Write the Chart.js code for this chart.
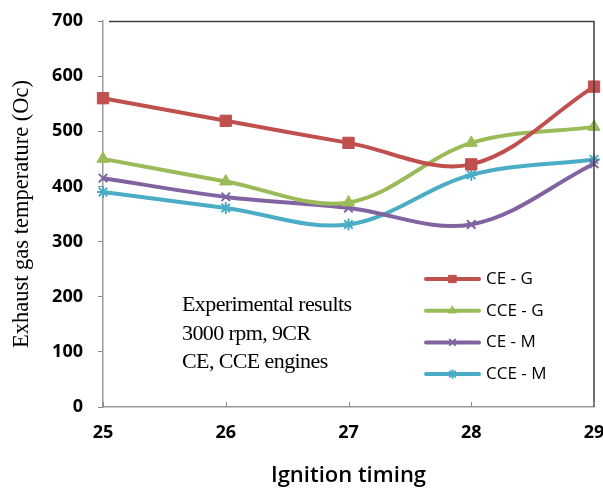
<!DOCTYPE html>
<html lang="en">
<head>
  <meta charset="UTF-8">
  <title>Exhaust gas temperature</title>
  <script src="https://cdn.jsdelivr.net/npm/chart.js"></script>
  <style>
    html, body { margin: 0; padding: 0; background: #fff; }
    #wrap { width: 603px; height: 489px; position: relative; }
  </style>
</head>
<body>
  <div id="wrap"><canvas id="egtChart"></canvas></div>
  <script>
    // ignition timing (deg) on the x axis
    var timing = ['25', '26', '27', '28', '29'];
    var seriesNames = ['CE - G', 'CCE - G', 'CE - M', 'CCE - M'];
    // exhaust gas temperature per series
    var ceG = [560, 519, 479, 440, 581];
    var cceG = [450, 409, 371, 479, 508];
    var ceM = [415, 381, 361, 331, 441];
    var cceM = [390, 361, 331, 421, 449];
    var yTicks = [0, 100, 200, 300, 400, 500, 600, 700];
    var noteLines = ['Experimental results', '3000 rpm, 9CR', 'CE, CCE engines'];

    var colors = ['#C0504D', '#9BBB59', '#8064A2', '#4BACC6'];
    var markers = ['rect', 'triangle', 'crossRot', 'star'];
    var radii = [8, 7, 6, 6];

    function makeSet(i, values) {
      return {
        label: seriesNames[i],
        data: values,
        borderColor: colors[i],
        backgroundColor: colors[i],
        borderWidth: 4,
        pointStyle: markers[i],
        pointRadius: radii[i],
        pointBorderWidth: i < 2 ? 1 : 2,
        pointBorderColor: colors[i],
        pointBackgroundColor: colors[i],
        tension: 0.35,
        fill: false
      };
    }

    // frame, inner x ticks, text box and legend drawn on top of the plot
    var extras = {
      id: 'extras',
      afterDraw: function (chart) {
        var ctx = chart.ctx, a = chart.chartArea;
        var xs = chart.scales.x;
        ctx.save();
        ctx.strokeStyle = '#404040';
        ctx.lineWidth = 1.5;
        ctx.beginPath();
        ctx.moveTo(a.left + 6, a.top + 0.5);
        ctx.lineTo(a.right, a.top + 0.5);
        ctx.lineTo(a.right, a.bottom);
        ctx.stroke();

        ctx.strokeStyle = '#888';
        ctx.lineWidth = 1;
        xs.ticks.forEach(function (t, i) {
          var px = Math.round(xs.getPixelForTick(i)) + 0.5;
          ctx.beginPath();
          ctx.moveTo(px, a.bottom);
          ctx.lineTo(px, a.bottom - 5);
          ctx.stroke();
        });

        ctx.fillStyle = '#000';
        ctx.font = '22px "Liberation Serif"';
        if ('letterSpacing' in ctx) ctx.letterSpacing = '-0.6px';
        ctx.textBaseline = 'alphabetic';
        ctx.textAlign = 'left';
        noteLines.forEach(function (t, i) {
          ctx.fillText(t, 182, 311 + i * 28.5);
        });
        if ('letterSpacing' in ctx) ctx.letterSpacing = '0px';

        ctx.textBaseline = 'middle';
        chart.data.datasets.forEach(function (ds, i) {
          var y = 279 + i * 31.7;
          ctx.strokeStyle = ds.borderColor;
          ctx.lineWidth = 4;
          ctx.lineCap = 'round';
          ctx.beginPath();
          ctx.moveTo(426, y);
          ctx.lineTo(479, y);
          ctx.stroke();
          ctx.fillStyle = ds.borderColor;
          ctx.lineWidth = ds.pointBorderWidth;
          Chart.helpers.drawPoint(ctx, { pointStyle: ds.pointStyle, radius: ds.pointRadius * 0.65, borderWidth: ds.pointBorderWidth }, 452.5, y);
          ctx.fillStyle = '#000';
          ctx.font = '17px "Open Sans"';
          ctx.fillText(ds.label, 486, y);
        });
        ctx.restore();
      }
    };

    var ctx = document.getElementById('egtChart').getContext('2d');
    new Chart(ctx, {
      type: 'line',
      data: {
        labels: timing,
        datasets: [makeSet(0, ceG), makeSet(1, cceG), makeSet(2, ceM), makeSet(3, cceM)]
      },
      plugins: [extras],
      options: {
        responsive: true,
        maintainAspectRatio: false,
        animation: false,
        layout: { padding: { top: 21, right: 9, left: 0, bottom: 0 } },
        plugins: {
          legend: { display: false },
          tooltip: { enabled: false }
        },
        scales: {
          x: {
            offset: false,
            grid: { drawOnChartArea: false, drawTicks: false, color: '#888' },
            border: { color: '#999', width: 1.5 },
            ticks: { color: '#000', font: { family: 'Open Sans', weight: 'bold', size: 18 }, padding: 15, maxRotation: 0 },
            title: {
              display: true,
              text: 'Ignition timing',
              color: '#000',
              font: { family: 'Open Sans', weight: '600', size: 22 },
              padding: { top: 6, bottom: 0 }
            },
            afterFit: function (s) {
              s.height = 82;
              s.paddingLeft = 0;
              s.paddingRight = 0;
            }
          },
          y: {
            min: 0,
            max: 700,
            afterBuildTicks: function (s) { s.ticks = yTicks.map(function (v) { return { value: v }; }); },
            grid: { drawOnChartArea: false, drawTicks: true, tickLength: 5, color: '#888' },
            border: { color: '#999', width: 1.5 },
            ticks: { color: '#000', font: { family: 'Open Sans', weight: 'bold', size: 18 }, padding: 15 },
            title: {
              display: true,
              text: 'Exhaust gas temperature (Oc)',
              color: '#000',
              font: { family: 'Liberation Serif', size: 22.5 },
              padding: { top: 9, bottom: 0 }
            },
            afterFit: function (s) {
              s.width = 103;
              s.paddingTop = 0;
              s.paddingBottom = 0;
            }
          }
        }
      }
    });
  </script>
</body>
</html>
